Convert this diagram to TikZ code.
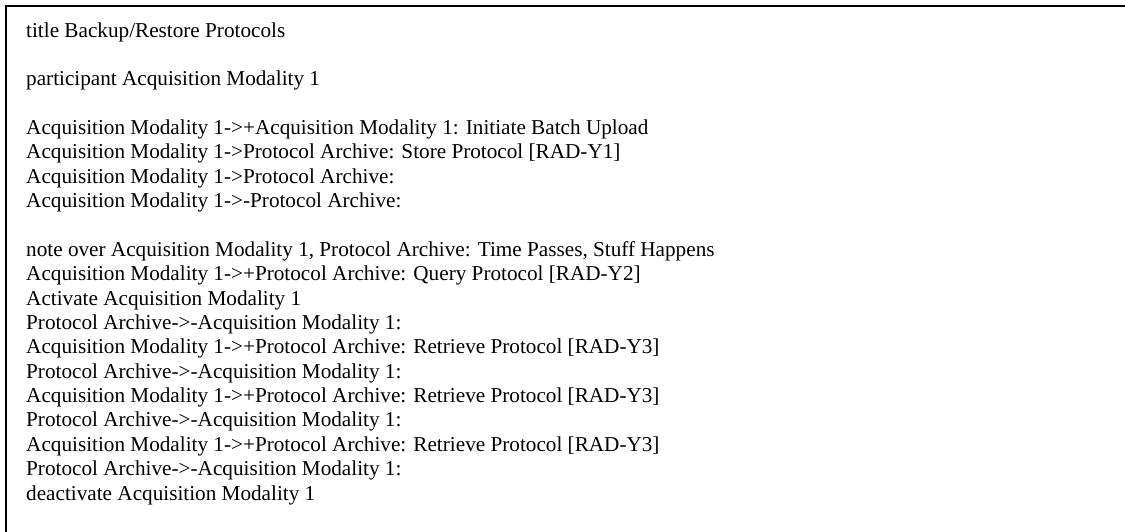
\documentclass[tikz,border=0pt]{standalone}
\usepackage{fontspec}
\setmainfont{Liberation Serif}
\begin{document}
\begin{tikzpicture}[x=1pt,y=1pt,
  srcline/.style={anchor=base west,inner sep=0pt,font=\fontsize{21.2pt}{24.37pt}\selectfont},
  frameline/.style={line width=2.2pt,draw=black}]
\useasboundingbox (0,0) rectangle (1125,-531);
\begin{scope}
\clip (0,0) rectangle (1125,-531);
\draw[frameline] (5.8,-540) -- (5.8,-6.2) -- (1140,-6.2);
\end{scope}
\def\bx{26}
\def\sk{24.37}
\node[srcline] (l0) at (\bx,{-37-0*\sk}) {title Backup/Restore Protocols};
\node[srcline] (l2) at (\bx,{-37-2*\sk}) {participant Acquisition Modality 1};
\node[srcline] (l4) at (\bx,{-37-4*\sk}) {Acquisition Modality 1->+Acquisition Modality 1: Initiate Batch Upload};
\node[srcline] (l5) at (\bx,{-37-5*\sk}) {Acquisition Modality 1->Protocol Archive: Store Protocol [RAD-Y1]};
\node[srcline] (l6) at (\bx,{-37-6*\sk}) {Acquisition Modality 1->Protocol Archive:};
\node[srcline] (l7) at (\bx,{-37-7*\sk}) {Acquisition Modality 1->-Protocol Archive:};
\node[srcline] (l9) at (\bx,{-37-9*\sk}) {note over Acquisition Modality 1, Protocol Archive: Time Passes, Stuff Happens};
\node[srcline] (l10) at (\bx,{-37-10*\sk}) {Acquisition Modality 1->+Protocol Archive: Query Protocol [RAD-Y2]};
\node[srcline] (l11) at (\bx,{-37-11*\sk}) {Activate Acquisition Modality 1};
\node[srcline] (l12) at (\bx,{-37-12*\sk}) {Protocol Archive->-Acquisition Modality 1:};
\node[srcline] (l13) at (\bx,{-37-13*\sk}) {Acquisition Modality 1->+Protocol Archive: Retrieve Protocol [RAD-Y3]};
\node[srcline] (l14) at (\bx,{-37-14*\sk}) {Protocol Archive->-Acquisition Modality 1:};
\node[srcline] (l15) at (\bx,{-37-15*\sk}) {Acquisition Modality 1->+Protocol Archive: Retrieve Protocol [RAD-Y3]};
\node[srcline] (l16) at (\bx,{-37-16*\sk}) {Protocol Archive->-Acquisition Modality 1:};
\node[srcline] (l17) at (\bx,{-37-17*\sk}) {Acquisition Modality 1->+Protocol Archive: Retrieve Protocol [RAD-Y3]};
\node[srcline] (l18) at (\bx,{-37-18*\sk}) {Protocol Archive->-Acquisition Modality 1:};
\node[srcline] (l19) at (\bx,{-37-19*\sk}) {deactivate Acquisition Modality 1};
\end{tikzpicture}
\end{document}
